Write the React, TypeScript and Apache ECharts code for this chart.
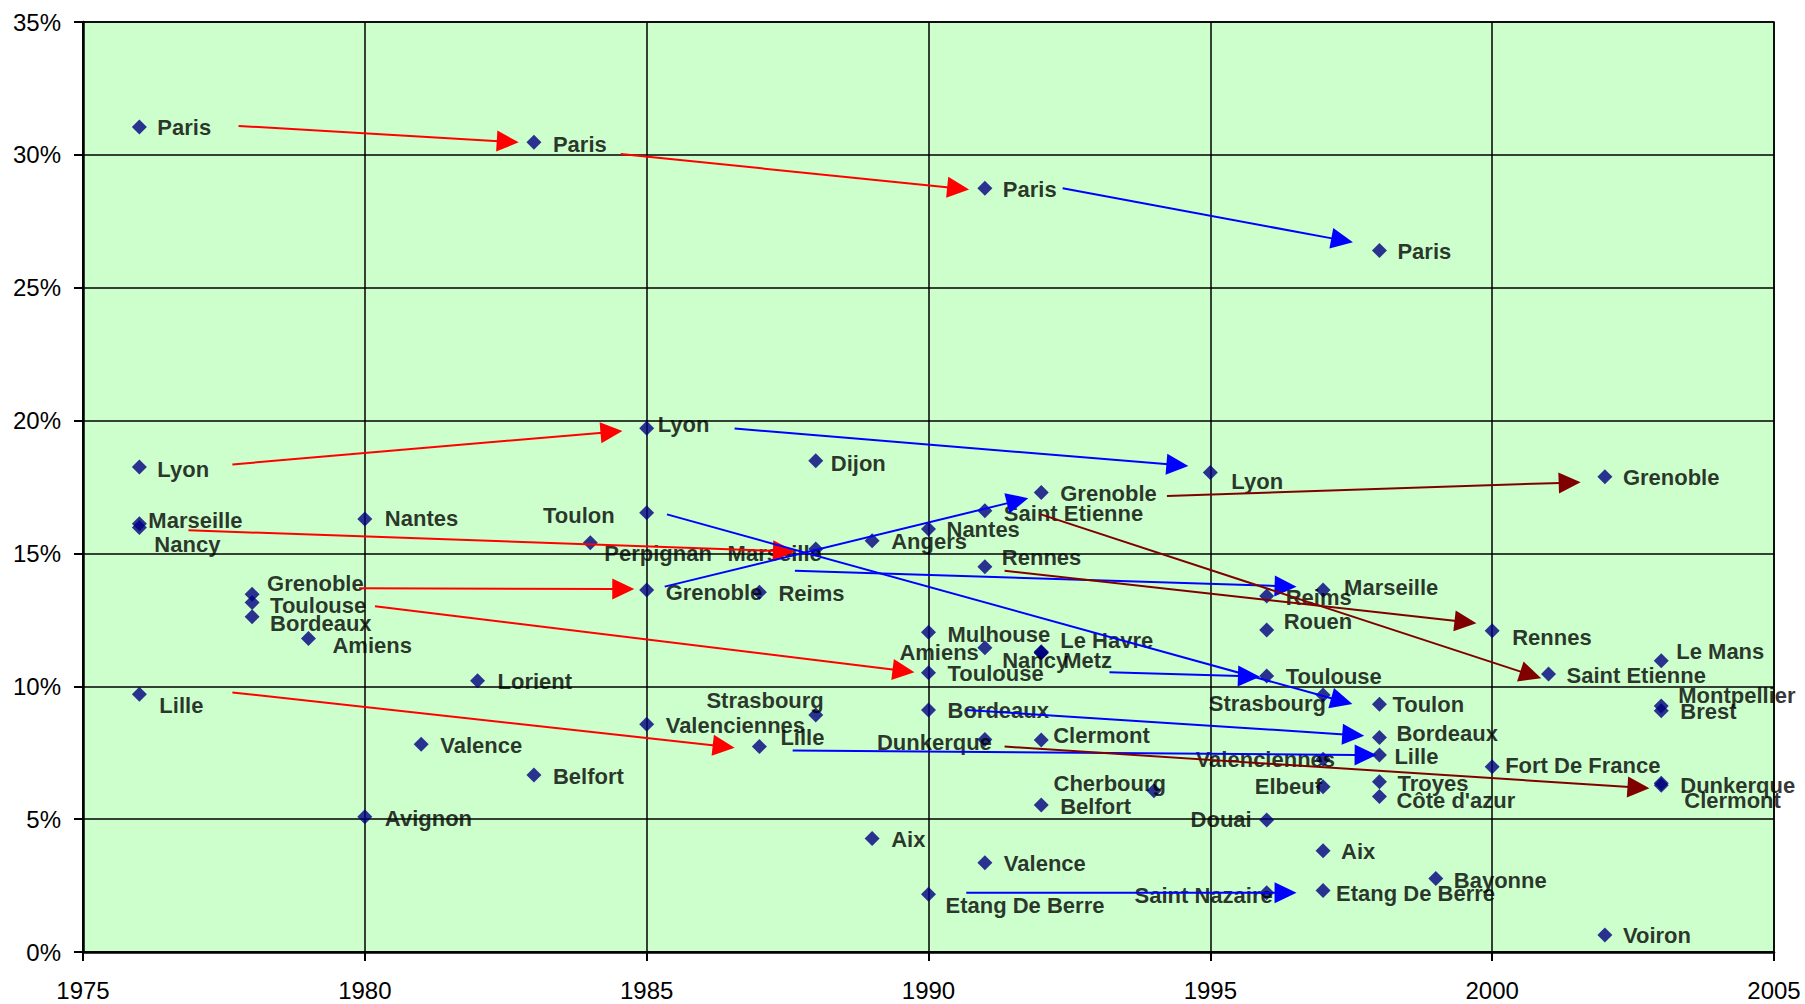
import React, { useEffect, useRef } from "react";
import * as echarts from "echarts";

// ---- data ----
const cities = [
  "Paris", "Lyon", "Marseille", "Nancy", "Lille",
  "Grenoble", "Toulouse", "Bordeaux", "Amiens", "Nantes",
  "Avignon", "Valence", "Lorient", "Paris", "Belfort",
  "Perpignan", "Lyon", "Toulon", "Grenoble", "Valenciennes",
  "Reims", "Lille", "Dijon", "Marseille", "Strasbourg",
  "Angers", "Aix", "Nantes", "Mulhouse", "Toulouse",
  "Bordeaux", "Etang De Berre", "Paris", "Saint Etienne", "Rennes",
  "Amiens", "Dunkerque", "Valence", "Grenoble", "Le Havre",
  "Nancy", "Metz", "Clermont", "Belfort", "Cherbourg",
  "Lyon", "Reims", "Rouen", "Toulouse", "Douai",
  "Saint Nazaire", "Marseille", "Strasbourg", "Valenciennes", "Elbeuf",
  "Aix", "Etang De Berre", "Paris", "Toulon", "Bordeaux",
  "Lille", "Troyes", "Côte d'azur", "Bayonne", "Rennes",
  "Fort De France", "Saint Etienne", "Grenoble", "Voiron", "Le Mans",
  "Montpellier", "Brest", "Dunkerque", "Clermont",
];

const years = [
  1976, 1976, 1976, 1976, 1976,
  1978, 1978, 1978, 1979, 1980,
  1980, 1981, 1982, 1983, 1983,
  1984, 1985, 1985, 1985, 1985,
  1987, 1987, 1988, 1988, 1988,
  1989, 1989, 1990, 1990, 1990,
  1990, 1990, 1991, 1991, 1991,
  1991, 1991, 1991, 1992, 1992,
  1992, 1992, 1992, 1992, 1994,
  1995, 1996, 1996, 1996, 1996,
  1996, 1997, 1997, 1997, 1997,
  1997, 1997, 1998, 1998, 1998,
  1998, 1998, 1998, 1999, 2000,
  2000, 2001, 2002, 2002, 2003,
  2003, 2003, 2003, 2003,
];

const shares = [
  31.05, 18.25, 16.12, 15.98, 9.7,
  13.46, 13.15, 12.62, 11.8, 16.3,
  5.09, 7.82, 10.21, 30.47, 6.66,
  15.4, 19.71, 16.53, 13.62, 8.57,
  13.54, 7.73, 18.49, 15.17, 8.92,
  15.48, 4.27, 15.92, 12.03, 10.51,
  9.11, 2.17, 28.74, 16.61, 14.5,
  11.45, 8.0, 3.36, 17.29, 11.3,
  11.26, 11.26, 7.98, 5.53, 6.07,
  18.05, 13.4, 12.12, 10.39, 4.97,
  2.23, 13.62, 9.67, 7.25, 6.22,
  3.81, 2.31, 26.4, 9.32, 8.07,
  7.41, 6.41, 5.85, 2.77, 12.09,
  6.97, 10.46, 17.89, 0.64, 10.96,
  9.26, 9.08, 6.35, 6.28,
];

// arrows: [fromYear, fromShare, toYear, toShare]
const redArrows = [
  [1977.76, 31.09, 1982.73, 30.47],
  [1984.54, 30.03, 1990.72, 28.7],
  [1977.65, 18.35, 1984.57, 19.61],
  [1976.87, 15.87, 1987.63, 15.07],
  [1979.9, 13.69, 1984.78, 13.66],
  [1980.18, 13.01, 1989.75, 10.53],
  [1977.65, 9.77, 1986.56, 7.69],
];
const blueArrows = [
  [1992.38, 28.74, 1997.53, 26.71],
  [1986.56, 19.7, 1994.61, 18.29],
  [1985.32, 13.75, 1991.77, 17.08],
  [1985.36, 16.47, 1997.52, 9.33],
  [1987.63, 14.35, 1996.53, 13.75],
  [1993.21, 10.53, 1995.88, 10.36],
  [1990.67, 9.11, 1997.73, 8.14],
  [1987.59, 7.58, 1997.95, 7.41],
  [1990.67, 2.23, 1996.53, 2.23],
];
const darkRedArrows = [
  [1994.23, 17.16, 2001.57, 17.68],
  [1991.98, 16.48, 2000.87, 10.3],
  [1991.35, 14.35, 1999.72, 12.37],
  [1991.35, 7.73, 2002.79, 6.16],
];

const yearTicks = [1975, 1980, 1985, 1990, 1995, 2000, 2005];
const shareTicks = [0, 5, 10, 15, 20, 25, 30, 35];

// ---- label placement (style): [dx px, dy px, align] from the marker centre ----
const labelPlacement: [number, number, string][] = [
  [18, 1, "left"], [18, 2, "left"], [9, -3, "left"], [15, 17, "left"], [20, 11, "left"],
  [15, -11, "left"], [18, 3, "left"], [18, 7, "left"], [24, 7, "left"], [20, 0, "left"],
  [20, 2, "left"], [19, 1, "left"], [20, 1, "left"], [19, 2, "left"], [19, 1, "left"],
  [14, 11, "left"], [11, -4, "left"], [-32, 3, "right"], [19, 2, "left"], [19, 1, "left"],
  [19, 1, "left"], [21, -9, "left"], [15, 3, "left"], [6, 5, "right"], [8, -14, "right"],
  [19, 1, "left"], [19, 1, "left"], [18, 1, "left"], [19, 2, "left"], [19, 1, "left"],
  [19, 1, "left"], [17, 11, "left"], [18, 1, "left"], [19, 3, "left"], [17, -9, "left"],
  [-6, 5, "right"], [7, 3, "right"], [19, 1, "left"], [19, 1, "left"], [19, -11, "left"],
  [-39, 8, "left"], [22, 8, "left"], [12, -4, "left"], [19, 1, "left"], [12, -7, "right"],
  [21, 9, "left"], [19, 2, "left"], [17, -8, "left"], [19, 1, "left"], [-15, 0, "right"],
  [6, 3, "right"], [21, -3, "left"], [3, 8, "right"], [12, 0, "right"], [-1, 0, "right"],
  [18, 1, "left"], [13, 3, "left"], [18, 1, "left"], [13, 0, "left"], [17, -4, "left"],
  [15, 1, "left"], [18, 2, "left"], [17, 4, "left"], [18, 2, "left"], [20, 7, "left"],
  [13, -1, "left"], [18, 1, "left"], [18, 1, "left"], [18, 1, "left"], [15, -9, "left"],
  [17, -10, "left"], [19, 1, "left"], [19, 2, "left"], [23, 15, "left"],
];

const FONT = "'Liberation Sans', Arial, Helvetica, sans-serif";

function arrowSeries(data: number[][], color: string) {
  return {
    type: "custom",
    coordinateSystem: "cartesian2d",
    z: 5,
    clip: false,
    silent: true,
    encode: { x: [0, 2], y: [1, 3] },
    data,
    renderItem: (params: any, api: any) => {
      const p1 = api.coord([api.value(0), api.value(1)]);
      const p2 = api.coord([api.value(2), api.value(3)]);
      const dx = p2[0] - p1[0];
      const dy = p2[1] - p1[1];
      const len = Math.sqrt(dx * dx + dy * dy) || 1;
      const ux = dx / len;
      const uy = dy / len;
      const L = 22;
      const W = 10.5;
      const bx = p2[0] - ux * L;
      const by = p2[1] - uy * L;
      return {
        type: "group",
        children: [
          {
            type: "line",
            shape: { x1: p1[0], y1: p1[1], x2: bx + ux * 2, y2: by + uy * 2 },
            style: { stroke: color, lineWidth: 2 },
          },
          {
            type: "polygon",
            shape: {
              points: [
                [p2[0], p2[1]],
                [bx - uy * W, by + ux * W],
                [bx + uy * W, by - ux * W],
              ],
            },
            style: { fill: color, stroke: null },
          },
        ],
      };
    },
  };
}

export default function App() {
  const ref = useRef<HTMLDivElement>(null);

  useEffect(() => {
    document.body.style.margin = "0";
    if (!ref.current) return;
    const chart = echarts.init(ref.current, null, { renderer: "svg" });

    const points = cities.map((name, i) => {
      const [dx, dy, align] = labelPlacement[i];
      return {
        name,
        value: [years[i], shares[i]],
        label: {
          show: true,
          formatter: name,
          position: "inside",
          align,
          verticalAlign: "middle",
          offset: [dx, dy],
        },
      };
    });

    chart.setOption({
      animation: false,
      backgroundColor: "#ffffff",
      textStyle: { fontFamily: FONT },
      grid: {
        left: 83,
        right: 31,
        top: 22,
        bottom: 52,
        show: true,
        backgroundColor: "#ccffcc",
        borderColor: "#000000",
        borderWidth: 1.5,
        containLabel: false,
      },
      xAxis: {
        type: "value",
        min: yearTicks[0],
        max: yearTicks[yearTicks.length - 1],
        interval: 5,
        axisLine: { show: true, onZero: false, lineStyle: { color: "#000", width: 2.5 } },
        axisTick: { show: true, length: 9, inside: false, lineStyle: { color: "#000", width: 2 } },
        axisLabel: {
          color: "#000",
          fontSize: 24,
          fontFamily: FONT,
          margin: 26,
          formatter: (v: number) => String(v),
        },
        splitLine: { show: true, lineStyle: { color: "#000", width: 1.5 } },
      },
      yAxis: {
        type: "value",
        min: shareTicks[0],
        max: shareTicks[shareTicks.length - 1],
        interval: 5,
        axisLine: { show: true, onZero: false, lineStyle: { color: "#000", width: 2.5 } },
        axisTick: { show: true, length: 9, inside: false, lineStyle: { color: "#000", width: 2 } },
        axisLabel: {
          color: "#000",
          fontSize: 24,
          fontFamily: FONT,
          margin: 22,
          formatter: (v: number) => v + "%",
        },
        splitLine: { show: true, lineStyle: { color: "#000", width: 1.5 } },
      },
      series: [
        {
          type: "scatter",
          symbol: "diamond",
          symbolSize: 15,
          z: 3,
          itemStyle: { color: "#000080" },
          label: {
            show: true,
            color: "#000",
            fontSize: 22,
            fontWeight: "bold",
            fontFamily: FONT,
          },
          emphasis: { disabled: true },
          data: points,
        },
        arrowSeries(redArrows, "#ff0000"),
        arrowSeries(blueArrows, "#0000ff"),
        arrowSeries(darkRedArrows, "#800000"),
      ],
    });

    return () => chart.dispose();
  }, []);

  return <div ref={ref} style={{ width: 1805, height: 1004 }} />;
}
